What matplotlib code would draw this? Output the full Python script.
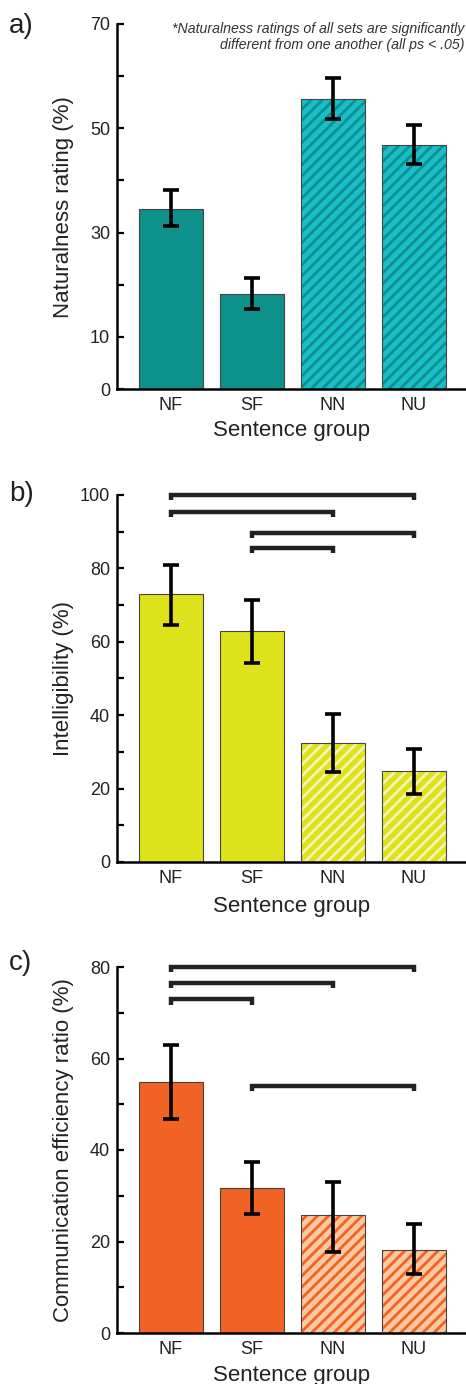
import numpy as np
import matplotlib
matplotlib.use("Agg")
import matplotlib.pyplot as plt

plt.rcParams['font.family'] = ['Liberation Sans', 'DejaVu Sans']
plt.rcParams['hatch.linewidth'] = 2.0

# date
grupe = ["NF", "SF", "NN", "NU"]

natural = [34.6, 18.3, 55.7, 46.8]
natural_sus = [38.1, 21.2, 59.6, 50.6]
natural_jos = [31.2, 15.4, 51.7, 43.1]

intel = [72.9, 63.0, 32.5, 24.9]
intel_sus = [80.9, 71.3, 40.3, 30.9]
intel_jos = [64.7, 54.2, 24.5, 18.5]

eficienta = [54.9, 31.7, 25.7, 18.1]
eficienta_sus = [62.9, 37.4, 33.1, 23.9]
eficienta_jos = [46.8, 26.1, 17.6, 13.0]

# perechi semnificative (indice1, indice2, inaltime)
perechi_b = [(0, 3, 100), (0, 2, 95.5), (1, 3, 89.7), (1, 2, 85.6)]
perechi_c = [(0, 3, 80), (0, 2, 76.5), (0, 1, 72.9), (1, 3, 53.9)]

W, H = 466, 1384
fig = plt.figure(figsize=(W / 100, H / 100), dpi=100)


def ax_box(top_px, bottom_px):
    return [117 / W, 1 - bottom_px / H, (W - 117) / W, (bottom_px - top_px) / H]


def deseneaza(ax, vals, sus, jos, solid, fundal, dungi, ymax, labeled, minor, pad_x):
    x = np.arange(len(vals))
    for i in range(len(vals)):
        if i < 2:
            ax.bar(x[i], vals[i], width=0.8, color=solid, edgecolor="#444444", linewidth=0.8, zorder=2)
        else:
            ax.bar(x[i], vals[i], width=0.8, color=fundal, edgecolor=dungi, linewidth=0, hatch="///", zorder=2)
            ax.bar(x[i], vals[i], width=0.8, fill=False, edgecolor="#444444", linewidth=0.8, zorder=3)
    err = [np.array(vals) - np.array(jos), np.array(sus) - np.array(vals)]
    ax.errorbar(x, vals, yerr=err, fmt="none", ecolor="black", elinewidth=2.6,
                capsize=5.5, capthick=2.6, zorder=4)
    ax.set_xlim(-0.667, 3.642)
    ax.set_ylim(0, ymax)
    ax.set_xticks(x)
    ax.set_xticklabels(grupe, fontsize=13, color="#222222")
    ax.set_yticks(labeled)
    ax.set_yticklabels([str(v) for v in labeled], fontsize=13, color="#222222")
    ax.set_yticks(minor, minor=True)
    ax.tick_params(axis="y", which="both", direction="in", length=5, width=1.6, pad=5)
    ax.tick_params(axis="x", length=0, pad=6)
    for s in ["top", "right"]:
        ax.spines[s].set_visible(False)
    for s in ["left", "bottom"]:
        ax.spines[s].set_linewidth(1.8)
    ax.set_xlabel("Sentence group", fontsize=16, labelpad=pad_x, color="#222222")


def paranteze(ax, perechi, d):
    for a, b, y in perechi:
        ax.plot([a, a, b, b], [y - d, y, y, y - d], color="#222222", lw=3.2,
                solid_capstyle="butt", solid_joinstyle="miter", clip_on=False, zorder=5)


# a)
ax1 = fig.add_axes(ax_box(24, 389))
deseneaza(ax1, natural, natural_sus, natural_jos, "#0e918a", "#19bdcb", "#0e918a",
          70, [0, 10, 30, 50, 70], [20, 40, 60], 4)
fig.text(63 / W, 1 - 207 / H, "Naturalness rating (%)", rotation=90, ha="center", va="center",
         fontsize=16, color="#222222")
fig.text(464 / W, 1 - 22 / H, "*Naturalness ratings of all sets are significantly\ndifferent from one another (all ps < .05)",
         ha="right", va="top", fontsize=10.2, style="italic", color="#333333", linespacing=1.2)
fig.text(9 / W, 1 - 26 / H, "a)", ha="left", va="center", fontsize=20, color="#222222")

# b)
ax2 = fig.add_axes(ax_box(495, 862))
deseneaza(ax2, intel, intel_sus, intel_jos, "#dde21a", "#dde21a", "#f6f4b5",
          100, [0, 20, 40, 60, 80, 100], [10, 30, 50, 70, 90], 6)
paranteze(ax2, perechi_b, 1.4)
fig.text(63 / W, 1 - 678 / H, "Intelligibility (%)", rotation=90, ha="center", va="center",
         fontsize=16, color="#222222")
fig.text(9 / W, 1 - 494 / H, "b)", ha="left", va="center", fontsize=20, color="#222222")

# c)
ax3 = fig.add_axes(ax_box(967, 1333))
deseneaza(ax3, eficienta, eficienta_sus, eficienta_jos, "#f06324", "#fcc8a0", "#f06324",
          80, [0, 20, 40, 60, 80], [10, 30, 50, 70], 5)
paranteze(ax3, perechi_c, 1.1)
fig.text(63 / W, 1 - 1150 / H, "Communication efficiency ratio (%)", rotation=90, ha="center", va="center",
         fontsize=16, color="#222222")
fig.text(9 / W, 1 - 963 / H, "c)", ha="left", va="center", fontsize=20, color="#222222")

fig.savefig("out.png", dpi=100)
